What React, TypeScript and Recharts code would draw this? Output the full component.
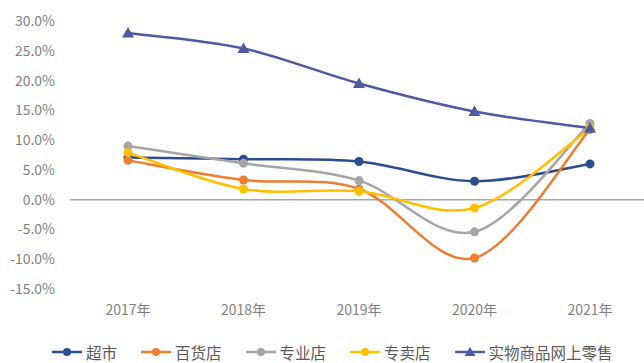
import React from 'react'
import { LineChart, Line, XAxis, YAxis, ReferenceLine } from 'recharts'

const YEARS = ['2017年', '2018年', '2019年', '2020年', '2021年']
const Y_TICKS = [-15, -10, -5, 0, 5, 10, 15, 20, 25, 30]

const supermarket = [7.1, 6.8, 6.4, 3.1, 6.0]
const deptStore = [6.6, 3.3, 1.8, -9.8, 11.8]
const specialtyStore = [9.0, 6.1, 3.2, -5.4, 12.8]
const exclusiveStore = [7.9, 1.8, 1.4, -1.4, 12.0]
const onlineRetail = [28.0, 25.4, 19.5, 14.8, 12.0]

const SERIES = [
  { key: 'a', name: '超市', color: '#2a4d8f', values: supermarket, shape: 'circle' },
  { key: 'b', name: '百货店', color: '#ed7d31', values: deptStore, shape: 'circle' },
  { key: 'c', name: '专业店', color: '#a5a5a5', values: specialtyStore, shape: 'circle' },
  { key: 'd', name: '专卖店', color: '#ffc000', values: exclusiveStore, shape: 'circle' },
  { key: 'e', name: '实物商品网上零售', color: '#4b5aa3', values: onlineRetail, shape: 'triangle' },
]

const data = YEARS.map((year, i) => {
  const row: Record<string, any> = { year }
  SERIES.forEach(s => { row[s.key] = s.values[i] })
  return row
})

// excel-like smoothed line (catmull-rom style bezier)
const smoothCurve: any = (context: any) => {
  let pts: number[][] = []
  return {
    areaStart() {},
    areaEnd() {},
    lineStart() { pts = [] },
    point(x: number, y: number) { pts.push([+x, +y]) },
    lineEnd() {
      if (!pts.length) return
      context.moveTo(pts[0][0], pts[0][1])
      for (let i = 0; i < pts.length - 1; i++) {
        const p0 = pts[i - 1] || pts[i]
        const p1 = pts[i]
        const p2 = pts[i + 1]
        const p3 = pts[i + 2] || p2
        context.bezierCurveTo(
          p1[0] + (p2[0] - p0[0]) / 6, p1[1] + (p2[1] - p0[1]) / 6,
          p2[0] - (p3[0] - p1[0]) / 6, p2[1] - (p3[1] - p1[1]) / 6,
          p2[0], p2[1]
        )
      }
    },
  }
}

const makeDot = (color: string, shape: string) => (props: any) => {
  const { cx, cy, index } = props
  if (shape === 'triangle') {
    return (
      <polygon key={`t-${index}`} points={`${cx},${cy - 6} ${cx + 6},${cy + 4.5} ${cx - 6},${cy + 4.5}`} fill={color} />
    )
  }
  return <circle key={`c-${index}`} cx={cx} cy={cy} r={4.5} fill={color} />
}

const LegendIcon = ({ color, shape }: { color: string; shape: string }) => (
  <svg width={30} height={12} style={{ display: 'block' }}>
    <line x1={0} y1={6} x2={30} y2={6} stroke={color} strokeWidth={2.5} />
    {shape === 'triangle'
      ? <polygon points="15,1 20.5,10 9.5,10" fill={color} />
      : <circle cx={15} cy={6} r={4} fill={color} />}
  </svg>
)

const App = () => {
  const font = '"Noto Sans CJK SC", "Noto Sans", sans-serif'
  return (
    <div style={{ position: 'absolute', left: 0, top: 0, width: 644, height: 363, overflow: 'hidden', background: '#fff' }}>
      <LineChart width={648} height={363} data={data} margin={{ top: 21, right: 0, left: 0, bottom: 44 }}>
        <XAxis
          dataKey="year"
          axisLine={false}
          tickLine={false}
          tickSize={0}
          tickMargin={16}
          padding={{ left: 58, right: 58 }}
          tick={{ fill: '#7f7f7f', fontSize: 14, fontFamily: font }}
        />
        <YAxis
          width={70}
          domain={[-15, 30]}
          ticks={Y_TICKS}
          axisLine={false}
          tickLine={false}
          tickSize={0}
          tickMargin={15}
          tickFormatter={(v: number) => v.toFixed(1) + '%'}
          tick={{ fill: '#7f7f7f', fontSize: 14, fontFamily: font }}
        />
        <ReferenceLine y={0} stroke="#a6a6a6" strokeWidth={1.5} />
        {SERIES.map(s => (
          <Line
            key={s.key}
            dataKey={s.key}
            name={s.name}
            type={smoothCurve}
            stroke={s.color}
            strokeWidth={2.5}
            dot={makeDot(s.color, s.shape)}
            activeDot={false}
            isAnimationActive={false}
          />
        ))}
      </LineChart>
      <div style={{ position: 'absolute', top: 342, left: 52, display: 'flex', alignItems: 'center', fontFamily: font, fontSize: 15.5, color: '#595959', lineHeight: '20px' }}>
        {SERIES.map(s => (
          <div key={s.key} style={{ display: 'flex', alignItems: 'center', marginRight: 24 }}>
            <LegendIcon color={s.color} shape={s.shape} />
            <span style={{ marginLeft: 4 }}>{s.name}</span>
          </div>
        ))}
      </div>
    </div>
  )
}

export default App
